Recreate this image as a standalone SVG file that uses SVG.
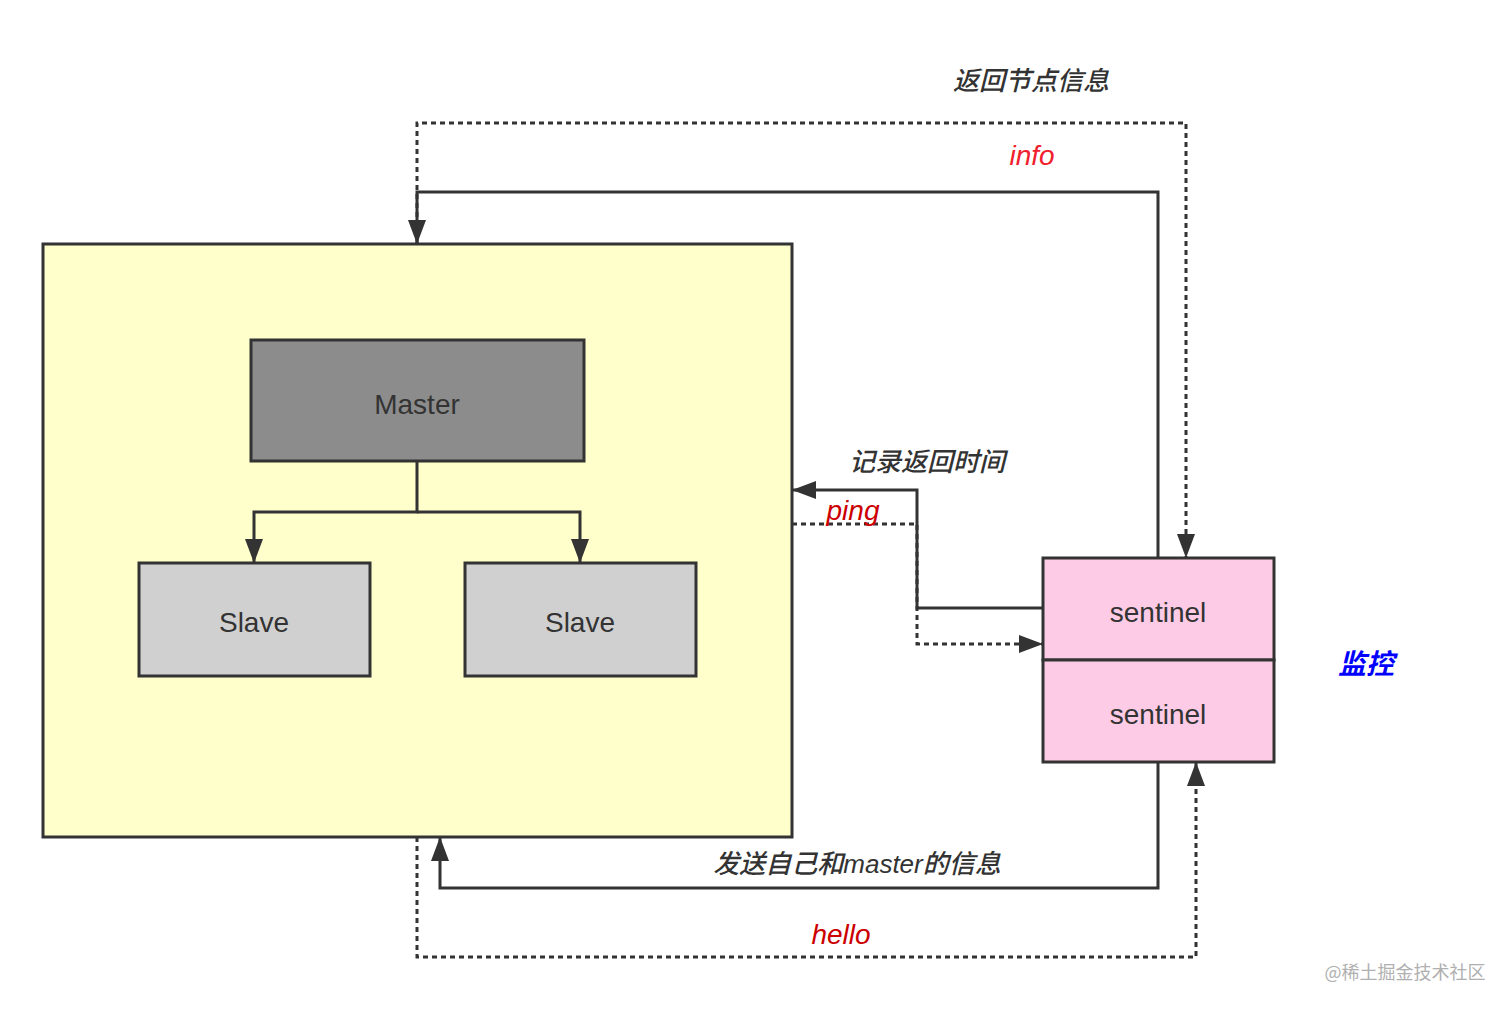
<svg xmlns="http://www.w3.org/2000/svg" width="1512" height="1010" viewBox="0 0 1512 1010">
<style>
.box{stroke:#333;stroke-width:3}
.ln{fill:none;stroke:#333;stroke-width:3}
.dot{fill:none;stroke:#333;stroke-width:3;stroke-dasharray:5 4}
.nt{font-family:"Liberation Sans","Noto Sans CJK SC",sans-serif;font-size:28px;fill:#333;text-anchor:middle}
.lb{font-family:"Liberation Sans","Noto Sans CJK SC",sans-serif;font-size:26px;font-style:italic;font-weight:500;fill:#333;text-anchor:middle}
.rl{font-size:28px}
.red{fill:#f0202e}
.dred{fill:#cc0000}
</style>
<defs>
<marker id="ah" markerUnits="userSpaceOnUse" markerWidth="26" markerHeight="20" refX="24" refY="9" orient="auto">
<path d="M0,0 L24,9 L0,18 Z" fill="#333"/>
</marker>
</defs>
<rect width="1512" height="1010" fill="#fff"/>
<g id="cluster">
<rect x="43" y="244" width="749" height="593" fill="#ffffcc" class="box"/>
</g>
<g id="master">
<rect x="251" y="340" width="333" height="121" fill="#8c8c8c" class="box"/>
<text x="417" y="414" class="nt">Master</text>
</g>
<g id="slave1">
<rect x="139" y="563" width="231" height="113" fill="#d0d0d0" class="box"/>
<text x="254" y="632" class="nt">Slave</text>
</g>
<g id="slave2">
<rect x="465" y="563" width="231" height="113" fill="#d0d0d0" class="box"/>
<text x="580" y="632" class="nt">Slave</text>
</g>
<g id="sentinel1">
<rect x="1043" y="558" width="231" height="102" fill="#fdcbe5" class="box"/>
<text x="1158" y="622" class="nt">sentinel</text>
</g>
<g id="sentinel2">
<rect x="1043" y="660" width="231" height="102" fill="#fdcbe5" class="box"/>
<text x="1158" y="724" class="nt">sentinel</text>
</g>
<g id="connectors">
<path d="M417,461 V512 H254 V563" class="ln" marker-end="url(#ah)"/>
<path d="M417,512 H580 V563" class="ln" marker-end="url(#ah)"/>
<path d="M417,244 V123 H1186 V558" class="dot" marker-end="url(#ah)"/>
<path d="M1158,558 V192 H417 V244" class="ln" marker-end="url(#ah)"/>
<path d="M1043,608 H917 V490 H792" class="ln" marker-end="url(#ah)"/>
<path d="M792,524 H917 V644 H1043" class="dot" marker-end="url(#ah)"/>
<path d="M1158,762 V888 H440 V837" class="ln" marker-end="url(#ah)"/>
<path d="M417,837 V957 H1196 V762" class="dot" marker-end="url(#ah)"/>
</g>
<g id="labels">
<text x="1031" y="90" class="lb">返回节点信息</text>
<text x="1032" y="165" class="lb rl red">info</text>
<text x="927" y="471" class="lb">记录返回时间</text>
<text x="853" y="520" class="lb rl dred">ping</text>
<text x="857" y="873" class="lb">发送自己和master的信息</text>
<text x="841" y="944" class="lb rl dred">hello</text>
<text x="1366" y="674" class="lb" style="fill:#0000ff;font-weight:bold;font-size:28px">监控</text>
<text x="1405" y="979" style="font-family:'Noto Sans CJK SC',sans-serif;font-size:18px;fill:#b0b0b0;text-anchor:middle">@稀土掘金技术社区</text>
</g>
</svg>
